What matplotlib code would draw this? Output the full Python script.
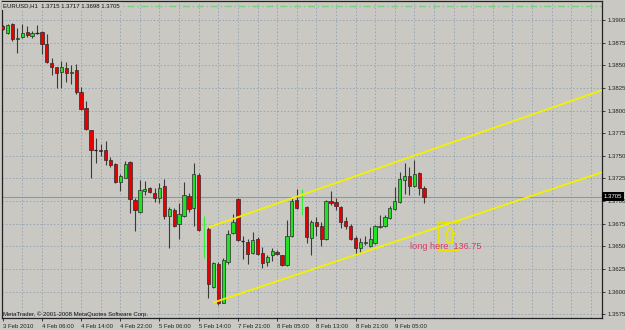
import numpy as np
import matplotlib.pyplot as plt
from matplotlib.patches import Rectangle, Polygon
import matplotlib.transforms as mtransforms

# EURUSD H1 candles, one entry per bar slot (None = marker bar with no body)
opens = [1.3893, 1.3886, 1.3896, 1.3879, 1.3881, 1.3887, 1.3882, 1.3886, 1.3887, 1.3874,
         1.3853, 1.3848, 1.3843, 1.3847, 1.3841, 1.3845, 1.3821, 1.3803, 1.3779, 1.3757,
         1.3757, 1.3756, 1.3745, 1.3741, 1.3721, 1.3726, 1.3743, 1.3701, 1.3688, 1.3711,
         1.3715, 1.3709, 1.3703, 1.3717, 1.3684, 1.3690, 1.3675, 1.3684, 1.3706, 1.3692,
         1.3729, None, 1.3669, 1.3605, 1.3631, 1.3588, 1.3633, 1.3665, 1.3702, 1.3656,
         1.3655, 1.3643, 1.3658, 1.3643, 1.3633, 1.3640, 1.3644, 1.3641, 1.3629, 1.3661,
         1.3701, None, 1.3694, 1.3659, 1.3677, 1.3672, 1.3658, 1.3700, 1.3699, 1.3694,
         1.3678, 1.3673, 1.3659, 1.3648, 1.3654, 1.3650, 1.3654, 1.3671, 1.3672, 1.3681,
         1.3691, 1.3699, 1.3723, 1.3728, 1.3717, 1.3731, 1.3715]
highs = [1.3895, 1.3896, 1.3897, 1.3891, 1.3896, 1.3893, 1.3888, 1.3894, 1.3888, 1.3885,
         1.3858, 1.3848, 1.3855, 1.3854, 1.3850, 1.3851, 1.3826, 1.3811, 1.3779, 1.3770,
         1.3763, 1.3766, 1.3749, 1.3742, 1.3730, 1.3744, 1.3744, 1.3703, 1.3723, 1.3722,
         1.3716, 1.3714, 1.3720, 1.3724, 1.3694, 1.3692, 1.3698, 1.3721, 1.3709, 1.3742,
         1.3731, 1.3684, 1.3671, 1.3633, 1.3633, 1.3637, 1.3668, 1.3686, 1.3704, 1.3661,
         1.3658, 1.3666, 1.3660, 1.3649, 1.3640, 1.3648, 1.3646, 1.3641, 1.3679, 1.3703,
         1.3713, 1.3713, 1.3695, 1.3679, 1.3683, 1.3677, 1.3701, 1.3711, 1.3703, 1.3695,
         1.3683, 1.3675, 1.3661, 1.3659, 1.3661, 1.3671, 1.3674, 1.3685, 1.3685, 1.3695,
         1.3716, 1.3732, 1.3742, 1.3738, 1.3745, 1.3732, 1.3717]
lows = [1.3889, 1.3885, 1.3877, 1.3864, 1.3880, 1.3881, 1.3880, 1.3885, 1.3862, 1.3853,
        1.3839, 1.3825, 1.3825, 1.3832, 1.3829, 1.3818, 1.3801, 1.3778, 1.3725, 1.3742,
        1.3750, 1.3740, 1.3738, 1.3720, 1.3711, 1.3725, 1.3687, 1.3667, 1.3687, 1.3707,
        1.3709, 1.3699, 1.3698, 1.3680, 1.3648, 1.3671, 1.3658, 1.3682, 1.3688, 1.3673,
        1.3667, 1.3637, 1.3593, 1.3604, 1.3585, 1.3587, 1.3631, 1.3664, 1.3656, 1.3636,
        1.3631, 1.3642, 1.3640, 1.3626, 1.3628, 1.3634, 1.3640, 1.3628, 1.3628, 1.3660,
        1.3691, 1.3685, 1.3654, 1.3640, 1.3661, 1.3650, 1.3657, 1.3696, 1.3690, 1.3670,
        1.3669, 1.3657, 1.3642, 1.3643, 1.3652, 1.3649, 1.3653, 1.3670, 1.3671, 1.3680,
        1.3690, 1.3698, 1.3708, 1.3707, 1.3716, 1.3707, 1.3698]
closes = [1.3890, 1.3895, 1.3879, 1.3880, 1.3886, 1.3883, 1.3886, 1.3886, 1.3874, 1.3854,
          1.3848, 1.3841, 1.3848, 1.3841, 1.3843, 1.3820, 1.3802, 1.3780, 1.3757, 1.3757,
          1.3755, 1.3745, 1.3740, 1.3721, 1.3728, 1.3741, 1.3702, 1.3690, 1.3712, 1.3713,
          1.3710, 1.3704, 1.3715, 1.3684, 1.3691, 1.3673, 1.3686, 1.3707, 1.3691, 1.3730,
          1.3668, None, 1.3608, 1.3632, 1.3587, 1.3635, 1.3664, 1.3677, 1.3657, 1.3656,
          1.3642, 1.3657, 1.3642, 1.3632, 1.3638, 1.3645, 1.3642, 1.3629, 1.3662, 1.3700,
          1.3692, None, 1.3660, 1.3677, 1.3673, 1.3658, 1.3700, 1.3698, 1.3695, 1.3677,
          1.3673, 1.3658, 1.3648, 1.3655, 1.3655, 1.3658, 1.3673, 1.3672, 1.3682, 1.3692,
          1.3700, 1.3724, 1.3728, 1.3717, 1.3730, 1.3715, 1.3705]

time_labels = ["3 Feb 2010", "4 Feb 06:00", "4 Feb 14:00", "4 Feb 22:00", "5 Feb 06:00",
               "5 Feb 14:00", "7 Feb 21:00", "8 Feb 05:00", "8 Feb 13:00", "8 Feb 21:00",
               "9 Feb 05:00"]
price_ticks = [1.3575, 1.3600, 1.3625, 1.3650, 1.3675, 1.3700, 1.3725, 1.3750,
               1.3775, 1.3800, 1.3825, 1.3850, 1.3875, 1.3900]
last_price = 1.3705
top_line_price = 1.39155

# trend lines (bar, price) anchors, drawn as rays to the right
upper_line = [(42, 1.3671), (86, 1.3754)]
lower_line = [(43, 1.3588), (86, 1.3666)]

# "long here" signal
signal_box = (88.9, 93.2, 1.3646, 1.3677)
signal_tip = (91.3, 1.36707)
signal_text = "long here  136.75"
signal_text_pos = (83.1, 1.3650)

bg = '#c9c8c3'
grid_c = '#8c9db0'
font = ['Liberation Sans', 'DejaVu Sans']
fs = 4.3

fig = plt.figure(figsize=(6.25, 3.3), dpi=100)
fig.patch.set_facecolor(bg)
ax = fig.add_axes([1.7 / 625, 11.7 / 330, 600.3 / 625, 317.3 / 330])
ax.set_facecolor(bg)
x_min, x_max = -0.2, 122.3
ax.set_xlim(x_min, x_max)
ax.set_ylim(1.35706, 1.39210)

# grid
for gx in range(4, 123, 4):
    ax.axvline(gx, color=grid_c, lw=0.55, ls=(0, (2, 2.5)), zorder=0)
for gy in price_ticks:
    ax.axhline(gy, color=grid_c, lw=0.55, ls=(0, (2, 2.5)), zorder=0)

# top horizontal line and bid line
ax.axhline(top_line_price, color='#7ccf7c', lw=1.0, ls=(0, (5, 2, 1, 2)), zorder=1)
ax.axhline(last_price, color='#8a98a8', lw=0.8, zorder=1)

# candles
w = 0.34
for i in range(len(highs)):
    o, h, l, c = opens[i], highs[i], lows[i], closes[i]
    if o is None:
        ax.vlines(i, l, h, color='#33ee33', lw=0.8, zorder=2)
        continue
    ax.vlines(i, l, h, color='#3a3a3a', lw=0.8, zorder=2)
    if abs(o - c) < 1e-6:
        ax.hlines(o, i - w, i + w, color='#1a1a1a', lw=0.9, zorder=3)
        continue
    col = '#22e022' if c > o else '#e80000'
    ax.add_patch(Rectangle((i - w, min(o, c)), 2 * w, abs(c - o),
                           facecolor=col, edgecolor='#2a2a2a', lw=0.5, zorder=3))

# trend lines
for (x0, y0), (x1, y1) in (upper_line, lower_line):
    k = (y1 - y0) / (x1 - x0)
    ax.plot([x0, x_max], [y0, y0 + k * (x_max - x0)], color='#f2f200', lw=1.3,
            zorder=4, solid_capstyle='butt')

# signal box + arrow
bx0, bx1, by0, by1 = signal_box
ax.add_patch(Rectangle((bx0, by0), bx1 - bx0, by1 - by0, fill=False,
                       edgecolor='#e6e600', lw=0.8, zorder=4))
tx, ty = signal_tip
px = 4.9  # pixels per bar
py = 1 / 0.00011043  # pixels per price unit
arrow_px = [(0, 0), (5, 6.6), (2.7, 6.6), (2.7, 15), (-2.7, 15), (-2.7, 6.6), (-5, 6.6)]
ax.add_patch(Polygon([(tx + dx / px, ty - dy / py) for dx, dy in arrow_px], closed=True,
                     fill=False, edgecolor='#e6e600', lw=1.3, zorder=5))
ax.text(signal_text_pos[0], signal_text_pos[1], signal_text, color='#dc3a6a',
        fontsize=6.6, family=font, va='center', ha='left', zorder=6)

# texts
ax.text(0.002, 0.985, "EURUSD,H1  1.3715 1.3717 1.3698 1.3705", transform=ax.transAxes,
        fontsize=fs, family=font, va='center', ha='left', color='#111111', zorder=6,
        bbox=dict(facecolor=bg, edgecolor='none', pad=1.0))
ax.text(0.002, 0.0126, "MetaTrader, \u00a9 2001-2008 MetaQuotes Software Corp.",
        transform=ax.transAxes, fontsize=fs, family=font, va='center', ha='left',
        color='#111111', zorder=6)

# axes
for s in ax.spines.values():
    s.set_color('#222222')
    s.set_linewidth(0.9)
ax.yaxis.tick_right()
ax.set_yticks(price_ticks)
ax.set_yticklabels(["%.4f" % p for p in price_ticks], fontsize=fs, family=font)
ax.set_xticks(range(0, 8 * len(time_labels), 8))
ax.set_xticklabels(time_labels, fontsize=fs, family=font, ha='left')
ax.tick_params(axis='y', length=2.5, width=0.6, pad=1.5, colors='#222222')
ax.tick_params(axis='x', length=2.5, width=0.6, pad=1.8, colors='#222222')

trans = mtransforms.blended_transform_factory(ax.transAxes, ax.transData)
ax.text(1.003, last_price, "1.3705", transform=trans, fontsize=fs, family=font,
        color='white', va='center', ha='left', zorder=7, clip_on=False,
        bbox=dict(facecolor='black', edgecolor='none', pad=1.2))

fig.savefig('out.png', dpi=100, facecolor=bg)
